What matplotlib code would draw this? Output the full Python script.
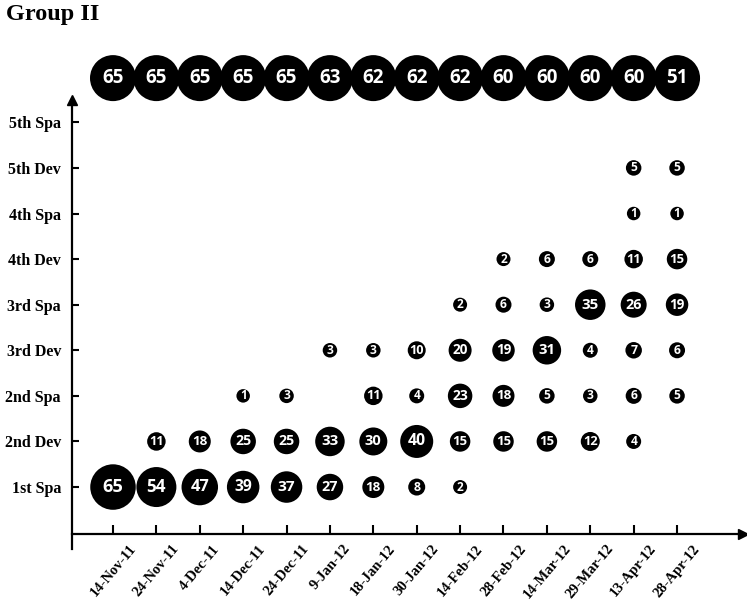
import matplotlib.pyplot as plt

dates = ["14-Nov-11", "24-Nov-11", "4-Dec-11", "14-Dec-11", "24-Dec-11", "9-Jan-12",
         "18-Jan-12", "30-Jan-12", "14-Feb-12", "28-Feb-12", "14-Mar-12", "29-Mar-12",
         "13-Apr-12", "28-Apr-12"]
stages = ["1st Spa", "2nd Dev", "2nd Spa", "3rd Dev", "3rd Spa",
          "4th Dev", "4th Spa", "5th Dev", "5th Spa"]
totals = [65, 65, 65, 65, 65, 63, 62, 62, 62, 60, 60, 60, 60, 51]

# counts per stage, one entry per date (None = no bubble)
spa1 = [65, 54, 47, 39, 37, 27, 18, 8, 2, None, None, None, None, None]
dev2 = [None, 11, 18, 25, 25, 33, 30, 40, 15, 15, 15, 12, 4, None]
spa2 = [None, None, None, 1, 3, None, 11, 4, 23, 18, 5, 3, 6, 5]
dev3 = [None, None, None, None, None, 3, 3, 10, 20, 19, 31, 4, 7, 6]
spa3 = [None, None, None, None, None, None, None, None, 2, 6, 3, 35, 26, 19]
dev4 = [None, None, None, None, None, None, None, None, None, 2, 6, 6, 11, 15]
spa4 = [None, None, None, None, None, None, None, None, None, None, None, None, 1, 1]
dev5 = [None, None, None, None, None, None, None, None, None, None, None, None, 5, 5]
rows = [spa1, dev2, spa2, dev3, spa3, dev4, spa4, dev5]

W, H = 747, 604
fig = plt.figure(figsize=(W / 100, H / 100), dpi=100)
ax = fig.add_axes([72 / W, (H - 534) / H, (743 - 72) / W, (534 - 100) / H])

ax.set_xlim(-0.945, 14.52)
ax.set_ylim(-1.03, 8.49)

num_font = "Open Sans"

def bubble(x, y, v, d_px, fs):
    ax.scatter([x], [y], s=(d_px * 0.72) ** 2, color="black", edgecolors="none",
               clip_on=False, zorder=3)
    ax.text(x, y, str(v), color="white", ha="center", va="center", fontsize=fs,
            fontfamily=num_font, fontweight="bold", clip_on=False, zorder=4)

for j, row in enumerate(rows):
    for i, v in enumerate(row):
        if v is None:
            continue
        bubble(i, j, v, 13 + 0.5 * v, 8.3 + 0.075 * v)

for i, v in enumerate(totals):
    bubble(i, 8.97, v, 46, 13.5)

for s in ["top", "right", "left", "bottom"]:
    ax.spines[s].set_visible(False)

# axis lines with arrows
ax.plot([0, 0], [-0.035, 1], color="black", lw=1.6, transform=ax.transAxes, clip_on=False)
ax.plot([0, 1], [0, 0], color="black", lw=1.6, transform=ax.transAxes, clip_on=False)
ax.plot(1, 0, marker=">", color="black", ms=7, transform=ax.transAxes, clip_on=False)
ax.plot(0, 1, marker="^", color="black", ms=7, transform=ax.transAxes, clip_on=False)

ax.set_xticks(range(len(dates)))
ax.set_xticklabels(dates, rotation=50, ha="center",
                   fontfamily="Liberation Serif", fontweight="bold", fontsize=10.5)
ax.set_yticks(range(len(stages)))
ax.set_yticklabels(stages, fontfamily="Liberation Serif", fontweight="bold", fontsize=11.5)
ax.tick_params(axis="x", direction="in", length=6.5, width=1.5, pad=6)
ax.tick_params(axis="y", direction="in", length=5, width=1.5, pad=8)

fig.text(0.008, 0.994, "Group II", ha="left", va="top", fontsize=17.5,
         fontfamily="Liberation Serif", fontweight="bold")

fig.savefig("out.png", dpi=100)
